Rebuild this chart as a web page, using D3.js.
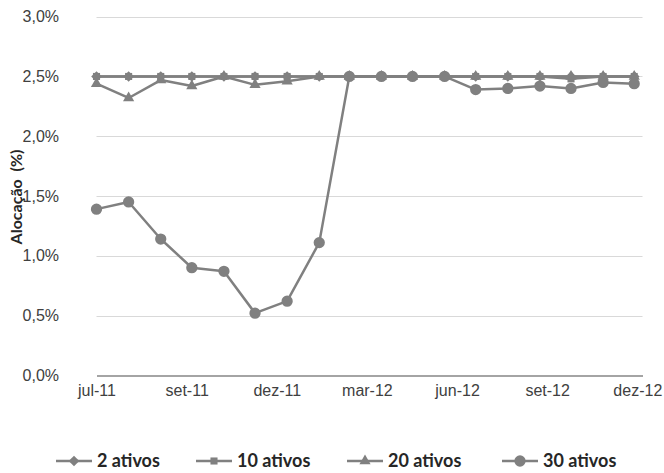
<!DOCTYPE html>
<html>
<head>
<meta charset="utf-8">
<script src="https://cdn.jsdelivr.net/npm/d3@7"></script>
<style>
  html, body { margin: 0; padding: 0; background: #fff; }
  svg { display: block; font-family: Lato, "Open Sans", "Liberation Sans", sans-serif; }
</style>
</head>
<body>
<svg id="chart" width="664" height="473"></svg>
<script>
// Monthly observation dates (first day of each month)
const months = [
  "2011-07-01", "2011-08-01", "2011-09-01", "2011-10-01", "2011-11-01", "2011-12-01",
  "2012-01-01", "2012-02-01", "2012-03-01", "2012-04-01", "2012-05-01", "2012-06-01",
  "2012-07-01", "2012-08-01", "2012-09-01", "2012-10-01", "2012-11-01", "2012-12-01"
];

// Allocation per portfolio size, in percent
const ativos2  = [2.50, 2.50, 2.50, 2.50, 2.50, 2.50, 2.50, 2.50, 2.50, 2.50, 2.50, 2.50, 2.50, 2.50, 2.50, 2.50, 2.50, 2.50];
const ativos10 = [2.50, 2.50, 2.50, 2.50, 2.50, 2.50, 2.50, 2.50, 2.50, 2.50, 2.50, 2.50, 2.50, 2.50, 2.50, 2.48, 2.50, 2.50];
const ativos20 = [2.44, 2.32, 2.47, 2.42, 2.50, 2.43, 2.46, 2.50, 2.50, 2.50, 2.50, 2.50, 2.50, 2.50, 2.50, 2.50, 2.50, 2.50];
const ativos30 = [1.39, 1.45, 1.14, 0.90, 0.87, 0.52, 0.62, 1.11, 2.50, 2.50, 2.50, 2.50, 2.39, 2.40, 2.42, 2.40, 2.45, 2.44];

const seriesNames = ["2 ativos", "10 ativos", "20 ativos", "30 ativos"];

// Date axis: labels every 87 days from the first observation
const xTickDates = ["2011-07-01", "2011-09-26", "2011-12-22", "2012-03-18", "2012-06-13", "2012-09-08", "2012-12-04"];
const xTickLabels = ["jul-11", "set-11", "dez-11", "mar-12", "jun-12", "set-12", "dez-12"];
const yTicks = [0, 0.5, 1.0, 1.5, 2.0, 2.5, 3.0];

const parse = d3.utcParse("%Y-%m-%d");
const svg = d3.select("#chart");
const color = "#808080";

const x = d3.scaleUtc()
  .domain([parse("2011-07-01"), parse("2012-12-09")])
  .range([96.5, 642.5]);
const y = d3.scaleLinear().domain([0, 3]).range([375.3, 16.7]);

// Horizontal gridlines
svg.append("g")
  .selectAll("line")
  .data(yTicks.filter(d => d > 0))
  .join("line")
  .attr("x1", x.range()[0]).attr("x2", x.range()[1])
  .attr("y1", d => Math.round(y(d)) + 0.5).attr("y2", d => Math.round(y(d)) + 0.5)
  .attr("stroke", "#d9d9d9").attr("stroke-width", 1);

// Y axis labels
const yAxis = d3.axisLeft(y)
  .tickValues(yTicks)
  .tickSize(0)
  .tickPadding(0)
  .tickFormat(d => d3.format(".1f")(d).replace(".", ",") + "%");
svg.append("g")
  .attr("transform", "translate(59,0)")
  .call(yAxis)
  .call(g => g.select(".domain").remove())
  .call(g => g.selectAll("text").attr("font-size", 16).attr("fill", "#404040").attr("font-family", null));

// X axis
const xAxis = d3.axisBottom(x)
  .tickValues(xTickDates.map(parse))
  .tickSize(0)
  .tickPadding(0)
  .tickFormat((d, i) => xTickLabels[i]);
svg.append("g")
  .attr("transform", `translate(0,${Math.round(y(0)) + 0.5})`)
  .call(xAxis)
  .call(g => g.select(".domain").attr("stroke", "#868686").attr("stroke-width", 1.3))
  .call(g => g.selectAll("text").attr("font-size", 16).attr("fill", "#404040")
    .attr("font-family", null).attr("dy", "1.25em"));

// Y axis title
svg.append("text")
  .attr("transform", "translate(22,197) rotate(-90)")
  .attr("text-anchor", "middle")
  .attr("font-size", 16)
  .attr("font-weight", "bold")
  .attr("fill", "#262626")
  .attr("xml:space", "preserve")
  .style("white-space", "pre")
  .text("Alocação  (%)");

const symbols = [d3.symbolDiamond2, d3.symbolSquare2, d3.symbolTriangle2, d3.symbolCircle];
const symbolSizes = [72, 64, 90, 100];
const allSeries = [ativos2, ativos10, ativos20, ativos30];

const line = d3.line()
  .x((d, i) => x(parse(months[i])))
  .y(d => y(d));

allSeries.forEach((vals, s) => {
  const g = svg.append("g");
  g.append("path")
    .datum(vals)
    .attr("d", line)
    .attr("fill", "none")
    .attr("stroke", color)
    .attr("stroke-width", 2.5)
    .attr("stroke-linejoin", "round");
  g.selectAll("path.mk")
    .data(vals)
    .join("path")
    .attr("class", "mk")
    .attr("transform", (d, i) => `translate(${x(parse(months[i]))},${y(d)})`)
    .attr("d", d3.symbol().type(symbols[s]).size(symbolSizes[s]))
    .attr("fill", color);
});

// Legend
const legendX = [56, 196, 347, 502];
const legendY = 461;
const lg = svg.append("g");
seriesNames.forEach((name, s) => {
  const gx = legendX[s];
  const item = lg.append("g").attr("transform", `translate(${gx},${legendY})`);
  item.append("line")
    .attr("x1", 0).attr("x2", 36)
    .attr("stroke", color).attr("stroke-width", 2.5);
  item.append("path")
    .attr("transform", "translate(18,0)")
    .attr("d", d3.symbol().type(symbols[s]).size(symbolSizes[s]))
    .attr("fill", color);
  item.append("text")
    .attr("x", 41)
    .attr("dy", "0.35em")
    .attr("font-size", 18)
    .attr("font-weight", "bold")
    .attr("fill", "#262626")
    .text(name);
});
</script>
</body>
</html>
